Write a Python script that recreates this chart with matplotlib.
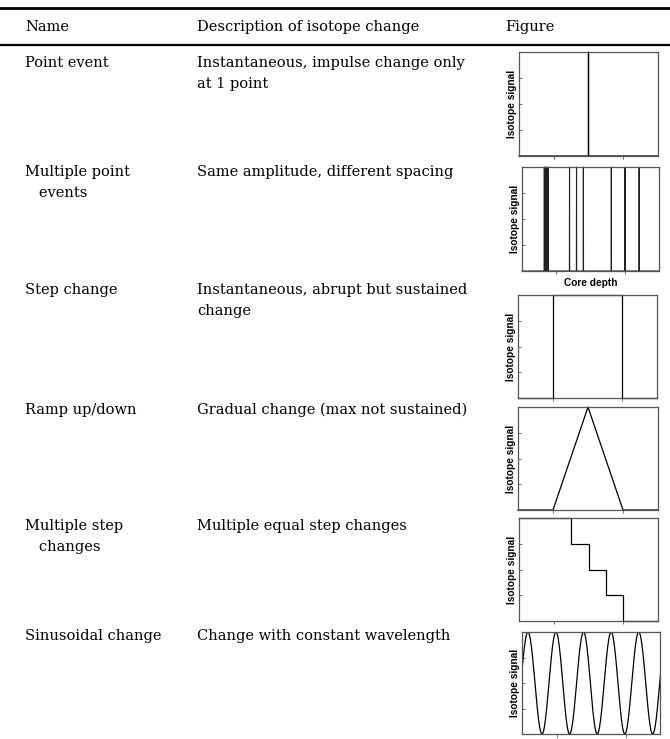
import numpy as np
import matplotlib
matplotlib.use("Agg")
import matplotlib.pyplot as plt

# table text
header = ["Name", "Description of isotope change", "Figure"]
names = [["Point event"], ["Multiple point", "   events"], ["Step change"],
         ["Ramp up/down"], ["Multiple step", "   changes"], ["Sinusoidal change"]]
descriptions = [["Instantaneous, impulse change only", "at 1 point"],
                ["Same amplitude, different spacing"],
                ["Instantaneous, abrupt but sustained", "change"],
                ["Gradual change (max not sustained)"],
                ["Multiple equal step changes"],
                ["Change with constant wavelength"]]

# signal shapes (x and y as fraction of the box)
point_event_x = [0.5]
multi_event_x = [0.163, 0.172, 0.181, 0.192, 0.347, 0.398, 0.448, 0.652, 0.752, 0.855]
step_x = [0.25, 0.75]
ramp_x = [0.25, 0.5, 0.75]
ramp_y = [0, 1, 0]
multi_step_x = [0.375, 0.5, 0.625, 0.75]
multi_step_levels = [1, 0.75, 0.5, 0.25, 0]
sine_peaks_x = [0.043, 0.246, 0.446, 0.646, 0.846]
sine_troughs_x = [0.145, 0.345, 0.545, 0.745, 0.947]

W, H = 670, 739
fig = plt.figure(figsize=(W / 100, H / 100), dpi=100)

serif = "DejaVu Serif"
fs = 10.5


def ty(y):
    return 1 - y / H


def tx(x):
    return x / W


# rules
for y, lw in [(8, 2.0), (45, 1.6)]:
    fig.add_artist(plt.Line2D([0, 1], [ty(y), ty(y)], color="black", lw=lw))

col_x = [25, 197, 505]
for x, h in zip(col_x, header):
    fig.text(tx(x), ty(27), h, family=serif, fontsize=fs, va="center")

row_y = [63, 172, 290, 410, 526, 636]
for y0, nm, ds in zip(row_y, names, descriptions):
    for i, line in enumerate(nm):
        fig.text(tx(col_x[0]), ty(y0 + 21 * i), line, family=serif, fontsize=fs, va="center")
    for i, line in enumerate(ds):
        fig.text(tx(col_x[1]), ty(y0 + 21 * i), line, family=serif, fontsize=fs, va="center")

boxes = [(519, 658, 52, 156), (522, 659, 167, 271), (518, 657, 295, 398),
         (518, 658, 407, 510), (519, 658, 518, 621), (522, 660, 632, 734)]

lab_font = dict(family="Liberation Sans", fontweight="bold", fontsize=7.3)


def make_ax(box):
    l, r, t, b = box
    ax = fig.add_axes([tx(l), ty(b), (r - l) / W, (b - t) / H])
    ax.set_xlim(0, 1)
    ax.set_ylim(0, 1)
    ax.set_xticks([0.25, 0.75])
    ax.set_yticks([0.25, 0.5, 0.75])
    ax.tick_params(axis="x", direction="out", length=2, width=0.6, labelbottom=False, color="#555")
    ax.tick_params(axis="y", direction="in", length=2, width=0.6, labelleft=False, color="#555")
    for s in ax.spines.values():
        s.set_color("#555555")
        s.set_linewidth(0.9)
    ax.set_ylabel("Isotope signal", labelpad=1.5, **lab_font)
    return ax


def spikes(xs, w=0.001):
    px, py = [0], [0]
    for x in xs:
        px += [x - w, x, x + w]
        py += [0, 1, 0]
    px.append(1)
    py.append(0)
    return px, py


lw = 0.9
axes = [make_ax(b) for b in boxes]

# point event
px, py = spikes(point_event_x)
axes[0].plot(px, py, color="black", lw=lw, clip_on=False)

# multiple point events
px, py = spikes(multi_event_x)
axes[1].plot(px, py, color="#222222", lw=0.8, clip_on=False)
axes[1].set_xlabel("Core depth", labelpad=3, **lab_font)

# step change
axes[2].plot([0, step_x[0], step_x[0], step_x[1], step_x[1], 1],
             [0, 0, 1, 1, 0, 0], color="black", lw=lw, clip_on=False)

# ramp
axes[3].plot([0] + ramp_x + [1], [0] + ramp_y + [0], color="black", lw=lw, clip_on=False)

# multiple steps
sx, sy = [0], [multi_step_levels[0]]
for x, lo, hi in zip(multi_step_x, multi_step_levels[1:], multi_step_levels[:-1]):
    sx += [x, x]
    sy += [hi, lo]
sx.append(1)
sy.append(multi_step_levels[-1])
axes[4].plot(sx, sy, color="black", lw=lw, clip_on=False)

# sinusoid: half-cosine segments between the read extrema
ext = sorted([(x, 1) for x in sine_peaks_x] + [(x, 0) for x in sine_troughs_x])
half = ext[1][0] - ext[0][0]
ext = [(ext[0][0] - half, 1 - ext[0][1])] + ext + [(ext[-1][0] + half, 1 - ext[-1][1])]
cx, cy = [], []
t = np.linspace(0, 1, 25)
for (xa, ya), (xb, yb) in zip(ext[:-1], ext[1:]):
    cx += list(xa + (xb - xa) * t)
    cy += list(ya + (yb - ya) * (1 - np.cos(np.pi * t)) / 2)
axes[5].plot(cx, cy, color="black", lw=lw)

fig.savefig("out.png", dpi=100)
